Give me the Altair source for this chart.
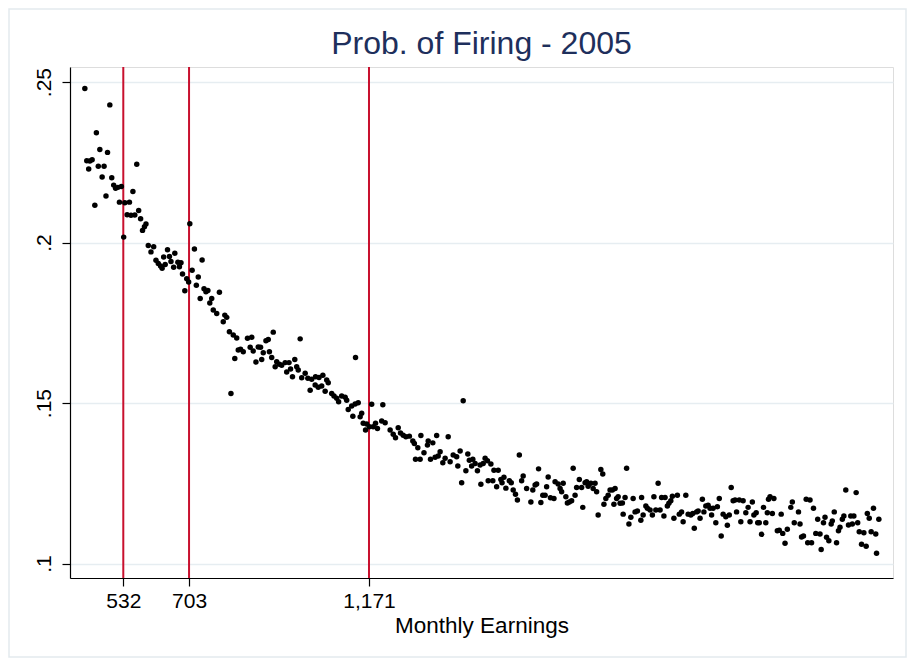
import altair as alt
import pandas as pd

# Binned monthly earnings (x) and probability of firing (y)
earnings = [
    432, 437, 442, 445, 451, 458, 462, 467, 471, 477, 482, 487, 491, 497, 502, 507, 512, 518, 522, 527,
    533, 536, 542, 548, 552, 557, 562, 567, 572, 577, 582, 587, 591, 597, 604, 611, 617, 623, 629, 633,
    637, 641, 647, 652, 656, 663, 666, 674, 678, 682, 686, 692, 697, 702, 705, 711, 717, 722, 727, 732,
    737, 742, 747, 752, 757, 762, 766, 775, 782, 792, 796, 801, 808, 812, 818, 822, 827, 831, 837, 844,
    855, 862, 866, 870, 877, 883, 889, 892, 896, 903, 909, 912, 918, 922, 927, 931, 938, 944, 953, 957,
    963, 967, 972, 978, 983, 987, 992, 996, 1005, 1012, 1018, 1022, 1031, 1032, 1039, 1041, 1048, 1051, 1057, 1061,
    1065, 1074, 1080, 1087, 1092, 1100, 1109, 1113, 1117, 1126, 1129, 1135, 1136, 1143, 1148, 1152, 1156, 1162, 1165, 1172,
    1178, 1182, 1188, 1193, 1204, 1207, 1213, 1226, 1234, 1240, 1247, 1253, 1260, 1267, 1276, 1285, 1289, 1292, 1298, 1304,
    1306, 1314, 1323, 1325, 1331, 1337, 1343, 1347, 1351, 1356, 1363, 1369, 1377, 1382, 1390, 1399, 1402, 1408, 1412, 1416,
    1423, 1428, 1432, 1438, 1441, 1447, 1453, 1460, 1462, 1468, 1473, 1479, 1481, 1488, 1493, 1496, 1503, 1507, 1514, 1517,
    1522, 1527, 1536, 1541, 1546, 1552, 1557, 1562, 1568, 1572, 1581, 1592, 1597, 1603, 1607, 1612, 1618, 1623, 1629, 1633,
    1637, 1643, 1652, 1655, 1663, 1668, 1672, 1676, 1683, 1687, 1692, 1698, 1702, 1707, 1711, 1718, 1724, 1727, 1733, 1737,
    1741, 1748, 1754, 1759, 1763, 1767, 1774, 1779, 1782, 1787, 1793, 1798, 1804, 1808, 1811, 1815, 1819, 1824, 1830, 1832,
    1837, 1841, 1847, 1852, 1858, 1863, 1869, 1878, 1880, 1884, 1891, 1895, 1902, 1908, 1912, 1917, 1923, 1928, 1932, 1938,
    1941, 1947, 1951, 1956, 1960, 1964, 1973, 1978, 1984, 1988, 1995, 2001, 2008, 2013, 2017, 2023, 2027, 2032, 2038, 2042,
    2047, 2053, 2058, 2062, 2066, 2073, 2077, 2082, 2087, 2092, 2099, 2103, 2108, 2113, 2118, 2123, 2127, 2134, 2138, 2144,
    2151, 2157, 2162, 2168, 2172, 2178, 2182, 2186, 2192, 2197, 2203, 2207, 2210, 2214, 2220, 2224, 2233, 2238, 2243, 2247,
    2253, 2259, 2268, 2272, 2277, 2288, 2292, 2296, 2301, 2308, 2312, 2318, 2322, 2327, 2333, 2338, 2344, 2347, 2353, 2357,
    2361, 2367, 2373, 2376, 2381, 2387, 2392, 2396, 2402, 2406, 2411, 2418, 2424, 2428, 2432, 2438, 2442, 2446, 2452, 2458,
    2464, 2467, 2472, 2477, 2483, 2489, 2491, 2497,
]

prob_firing = [
    .2480, .2255, .2229, .2254, .2258, .2116, .2342, .2238, .2290, .2204, .2238, .2145, .2281, .2429, .2202, .2179, .2169, .2172, .2126, .2175,
    .2017, .2124, .2087, .2126, .2085, .2159, .2086, .2244, .2100, .2074, .2038, .2049, .2058, .1991, .1971, .1987, .1945, .1935, .1927, .1920,
    .1955, .1932, .1978, .1957, .1941, .1923, .1967, .1939, .1925, .1937, .1902, .1850, .1887, .1877, .2059, .1914, .1980, .1867, .1893, .1826,
    .1946, .1856, .1847, .1851, .1812, .1826, .1790, .1779, .1845, .1753, .1774, .1767, .1722, .1530, .1712, .1639, .1703, .1665, .1668, .1660,
    .1702, .1674, .1705, .1662, .1628, .1675, .1674, .1636, .1657, .1694, .1698, .1660, .1642, .1721, .1613, .1629, .1621, .1618, .1626, .1597,
    .1626, .1606, .1582, .1636, .1613, .1603, .1700, .1579, .1593, .1577, .1540, .1574, .1556, .1582, .1549, .1580, .1553, .1587, .1537, .1572,
    .1563, .1530, .1522, .1515, .1504, .1522, .1518, .1509, .1480, .1491, .1459, .1497, .1642, .1501, .1457, .1468, .1437, .1416, .1435, .1426,
    .1496, .1426, .1437, .1421, .1444, .1495, .1439, .1416, .1403, .1392, .1423, .1407, .1400, .1395, .1397, .1382, .1374, .1325, .1361, .1325,
    .1399, .1345, .1369, .1382, .1325, .1376, .1331, .1399, .1335, .1348, .1314, .1328, .1395, .1317, .1338, .1333, .1304, .1351, .1252, .1507,
    .1289, .1341, .1322, .1304, .1325, .1312, .1289, .1307, .1247, .1312, .1328, .1320, .1258, .1310, .1258, .1291, .1239, .1291, .1262, .1252,
    .1269, .1235, .1258, .1252, .1229, .1216, .1198, .1338, .1258, .1273, .1234, .1192, .1229, .1245, .1248, .1295, .1190, .1213, .1213, .1239,
    .1270, .1205, .1203, .1255, .1248, .1234, .1224, .1250, .1208, .1189, .1192, .1196, .1297, .1213, .1237, .1262, .1237, .1175, .1252, .1255,
    .1241, .1250, .1234, .1250, .1224, .1151, .1293, .1279, .1185, .1203, .1213, .1229, .1229, .1185, .1234, .1203, .1208, .1188, .1189, .1154,
    .1206, .1297, .1123, .1144, .1203, .1161, .1164, .1135, .1206, .1151, .1179, .1172, .1167, .1151, .1208, .1167, .1250, .1167, .1206, .1148,
    .1206, .1179, .1188, .1196, .1210, .1141, .1213, .1154, .1161, .1130, .1213, .1154, .1151, .1156, .1110, .1161, .1164, .1141, .1200, .1161,
    .1179, .1182, .1172, .1151, .1172, .1127, .1177, .1203, .1086, .1154, .1146, .1119, .1151, .1237, .1196, .1198, .1161, .1198, .1130, .1196,
    .1158, .1175, .1130, .1192, .1151, .1158, .1127, .1127, .1091, .1175, .1127, .1158, .1200, .1208, .1156, .1203, .1102, .1104, .1154, .1094,
    .1063, .1107, .1175, .1192, .1127, .1161, .1123, .1083, .1086, .1200, .1065, .1198, .1065, .1172, .1094, .1138, .1092, .1044, .1127, .1144,
    .1082, .1071, .1123, .1133, .1161, .1065, .1102, .1113, .1138, .1148, .1229, .1120, .1148, .1123, .1148, .1221, .1127, .1099, .1060, .1096,
    .1054, .1156, .1141, .1099, .1172, .1092, .1032, .1138,
]

xline_values = [532, 703, 1171]
x_tick_values = [532, 703, 1171]
y_tick_values = [0.10, 0.15, 0.20, 0.25]

title_text = "Prob. of Firing - 2005"
x_title = "Monthly Earnings"

FONT = "Liberation Sans"
W, H = 823, 511
PAD_L, PAD_T, PAD_R, PAD_B = 62, 59, 14, 80

pts = pd.DataFrame({"earnings": earnings, "prob": prob_firing})
lines = pd.DataFrame({"earnings": xline_values})

x_scale = alt.Scale(domain=[393.4, 2533.8], nice=False, zero=False)
y_scale = alt.Scale(domain=[0.0955, 0.2547], nice=False, zero=False)

x_axis = alt.Axis(
    values=x_tick_values, format=",d", title=x_title, grid=False,
    labelFont=FONT, labelFontSize=21, labelColor="black", labelPadding=4,
    titleFont=FONT, titleFontSize=22.5, titleFontWeight="normal", titleColor="black",
    titlePadding=3, tickSize=8, tickColor="black", domainColor="black",
    domainWidth=1.2, tickWidth=1.2, labelFlush=False, labelOverlap=False,
)
y_axis = alt.Axis(
    values=y_tick_values, title=None, grid=True, gridColor="#e6edf1", gridWidth=1.6,
    labelExpr="substring(format(datum.value, '.2~f'), 1)",
    labelFont=FONT, labelFontSize=21, labelColor="black", labelAngle=270,
    labelAlign="center", labelBaseline="bottom", labelPadding=8,
    tickSize=8, tickColor="black", domainColor="black", domainWidth=1.2, tickWidth=1.2,
    labelFlush=False, labelOverlap=False,
)

rules = alt.Chart(lines).mark_rule(color="#c8102e", strokeWidth=2).encode(
    x=alt.X("earnings:Q", scale=x_scale, axis=x_axis),
)

points = alt.Chart(pts).mark_circle(size=30, color="black", opacity=1).encode(
    x=alt.X("earnings:Q", scale=x_scale, axis=x_axis),
    y=alt.Y("prob:Q", scale=y_scale, axis=y_axis),
)

frame = alt.Chart(pd.DataFrame({"k": [0]})).mark_rect(
    fill="white", fillOpacity=0, stroke="#e3eaee", strokeWidth=1.5
).encode(
    x=alt.value(-PAD_L + 1), x2=alt.value(W + PAD_R - 1),
    y=alt.value(-PAD_T + 1), y2=alt.value(H + PAD_B - 1),
)

title = alt.Chart(pd.DataFrame({"t": [title_text]})).mark_text(
    font=FONT, fontSize=32, color="#1e2f5c", align="center", baseline="alphabetic"
).encode(
    text="t:N", x=alt.value(W / 2), y=alt.value(-13),
)

chart = alt.layer(frame, rules, points, title).properties(
    width=W, height=H,
    padding={"left": PAD_L, "top": PAD_T, "right": PAD_R, "bottom": PAD_B},
    autosize=alt.AutoSizeParams(type="none"),
).configure_view(stroke=None).configure(background="white")

chart.save("out.html", embed_options={"renderer": "svg", "actions": False})
